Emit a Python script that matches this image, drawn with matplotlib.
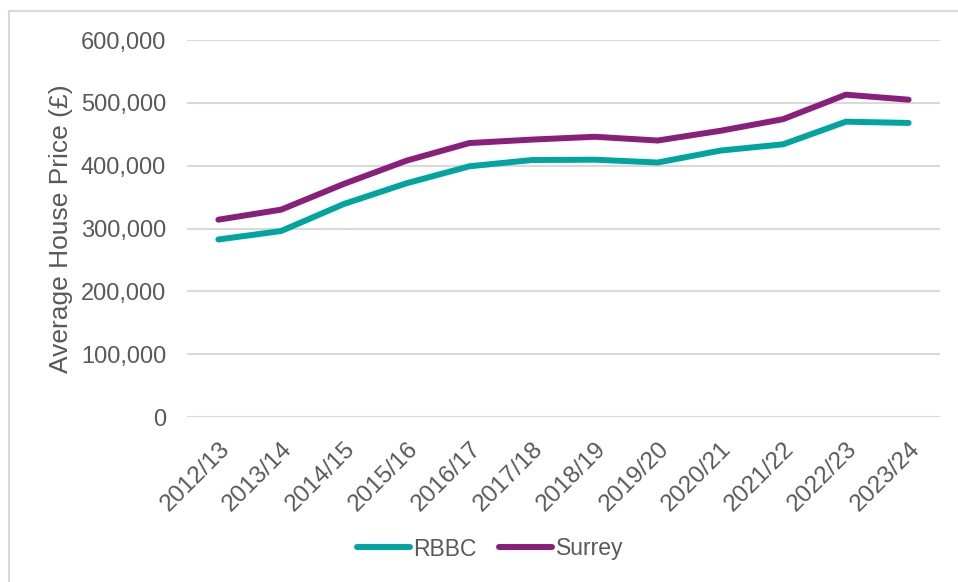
import matplotlib
matplotlib.use("Agg")
import matplotlib.pyplot as plt
from matplotlib.lines import Line2D
from matplotlib.ticker import FuncFormatter

years = ["2012/13", "2013/14", "2014/15", "2015/16", "2016/17", "2017/18",
         "2018/19", "2019/20", "2020/21", "2021/22", "2022/23", "2023/24"]
rbbc = [282500, 296000, 339000, 372000, 399000, 409000,
        409500, 405000, 424000, 434000, 470000, 468000]
surrey = [314000, 330000, 371000, 408000, 436000, 441500,
          446000, 440000, 455500, 474000, 513000, 505000]

teal = "#00A5A0"
purple = "#8A1F7B"
txt = "#595959"

plt.rcParams['font.family'] = ['Liberation Sans', 'DejaVu Sans']

fig = plt.figure(figsize=(9.58, 5.82), dpi=100)
ax = fig.add_axes([187/958, 1-417/582, (940-187)/958, (417-40)/582])

x = list(range(len(years)))
ax.plot(x, rbbc, color=teal, lw=4.3, label="RBBC", solid_capstyle="round")
ax.plot(x, surrey, color=purple, lw=4.3, label="Surrey", solid_capstyle="round")

ax.set_xlim(-0.5, len(years) - 0.5)
ax.set_ylim(0, 600000)
ax.set_yticks(range(0, 600001, 100000))
ax.yaxis.set_major_formatter(FuncFormatter(lambda v, p: f"{int(v):,}"))
ax.set_xticks(x)
ax.set_xticklabels(years, rotation=45, ha="right", rotation_mode="anchor")
ax.grid(axis="y", color="#D9D9D9", lw=1.5)
ax.set_axisbelow(True)
for s in ax.spines.values():
    s.set_visible(False)
ax.tick_params(axis="both", length=0, colors=txt)
ax.tick_params(axis="y", pad=15, labelsize=17)
ax.tick_params(axis="x", pad=15, labelsize=17.5)
ax.set_ylabel("Average House Price (£)", color=txt, fontsize=19)
ax.yaxis.set_label_coords(-0.152, 0.5)

leg = fig.legend(loc="center", bbox_to_anchor=(490/958, 1-549/582), ncol=2,
                 frameon=False, fontsize=16.5, handlelength=2.3, handletextpad=0.15,
                 columnspacing=1.0, labelcolor=txt)

fig.add_artist(Line2D([8.5/958, 8.5/958], [0, 1-10.5/582], transform=fig.transFigure,
                      color="#D9D9D9", lw=1.5))
fig.add_artist(Line2D([8.5/958, 1], [1-10.5/582, 1-10.5/582], transform=fig.transFigure,
                      color="#D9D9D9", lw=1.5))

fig.savefig("out.png", dpi=100)
